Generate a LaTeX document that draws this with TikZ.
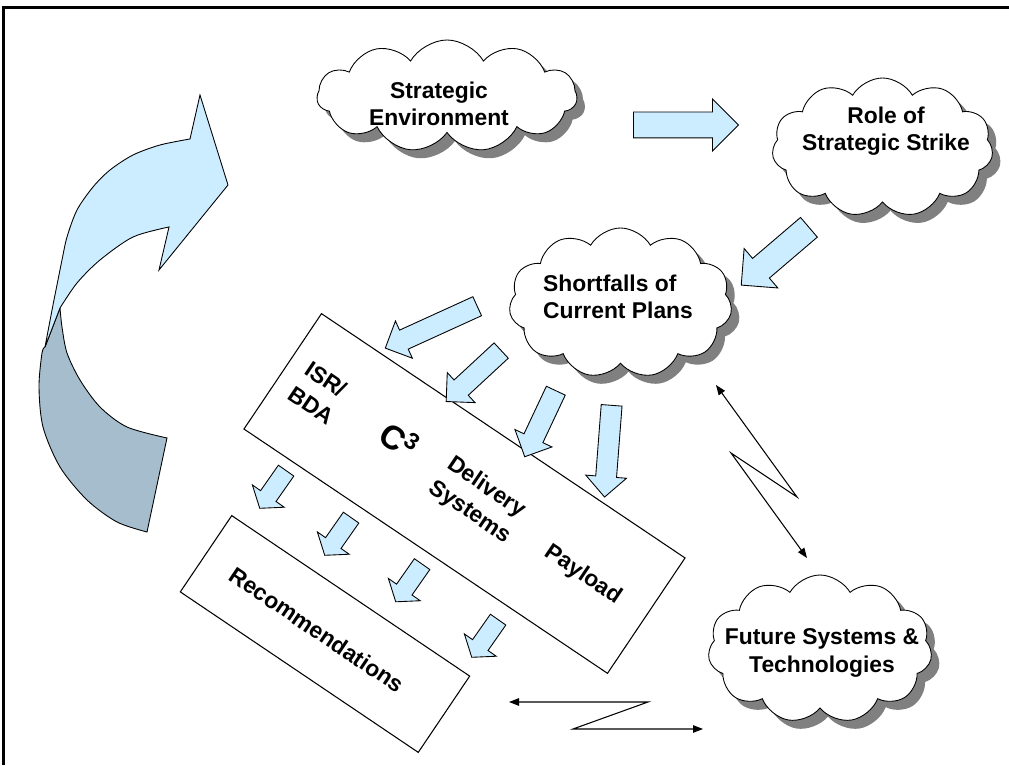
\documentclass[tikz,border=0pt]{standalone}
\usepackage{fontspec}
\setmainfont{Liberation Sans}
\usetikzlibrary{shapes.symbols,shapes.arrows,shadows,arrows.meta}
\definecolor{paleblue}{RGB}{204,236,255}
\definecolor{slateblue}{RGB}{165,189,204}
\tikzset{
  puff/.style={cloud, cloud puffs=11, cloud puff arc=120, cloud ignores aspect, draw, fill=white, line width=0.5pt, inner sep=0pt,
    drop shadow={shadow xshift=0.16cm, shadow yshift=-0.17cm, fill=black!50, opacity=1}},
  puffname/.style={font=\fontsize{13}{15.5}\selectfont\bfseries, align=center, inner sep=0pt},
  boxname/.style={font=\fontsize{13}{17}\selectfont\bfseries, rotate=-34, inner sep=0pt},
  bigarr/.style={single arrow, draw, fill=paleblue, line width=0.5pt, inner xsep=0pt, inner ysep=0.25cm, single arrow head extend=0.26cm},
  midarr/.style={bigarr, inner ysep=0.20cm, single arrow head extend=0.20cm},
  smallarr/.style={bigarr, inner ysep=0.18cm, single arrow head extend=0.20cm, single arrow tip angle=105, minimum height=0.92cm, rotate=235},
  zig/.style={line width=0.6pt, {Triangle[length=2mm,width=1.5mm]}-{Triangle[length=2mm,width=1.5mm]}}
}
\begin{document}
\begin{tikzpicture}
\useasboundingbox (0,0) rectangle (20.18,15.30);
\draw[line width=1.4pt] (0.07,0) -- (0.07,15.15) -- (20.18,15.15);

\filldraw[fill=slateblue, line width=0.5pt] plot[smooth] coordinates {(1.20,9.14) (1.24,8.76) (1.34,8.24) (1.60,7.70) (2.00,7.16) (2.54,6.76) (3.34,6.54)}
  -- (2.94,4.66) -- plot[smooth] coordinates {(2.94,4.66) (2.34,4.86) (1.74,5.30) (1.20,5.96) (0.86,6.76) (0.78,7.56) (0.84,8.24) (0.90,8.36)} -- cycle;
\filldraw[fill=paleblue, line width=0.5pt] plot[smooth] coordinates {(0.90,8.36) (1.06,9.20) (1.24,10.10) (1.34,10.56) (1.54,11.10) (1.86,11.56) (2.20,11.90) (2.66,12.20) (3.20,12.40) (3.80,12.52)}
  -- (4.00,13.40) -- (4.56,11.60) -- (3.18,9.90) -- (3.38,10.76)
  -- plot[smooth] coordinates {(3.38,10.76) (2.66,10.56) (2.00,10.10) (1.54,9.64) (1.20,9.14)} -- cycle;

\node[puff, minimum width=5.2cm, minimum height=2.24cm] (env) at (8.94,13.38) {};
\node[puff, minimum width=4.42cm, minimum height=2.78cm] (role) at (17.65,12.35) {};
\node[puff, minimum width=4.46cm, minimum height=3.0cm] (short) at (12.41,9.24) {};
\node[puff, minimum width=4.48cm, minimum height=2.96cm] (future) at (16.40,2.32) {};
\node[puffname] (envtxt) at (8.78,13.22) {Strategic\\Environment};
\node[puffname] (roletxt) at (17.72,12.68) {Role of\\Strategic Strike};
\node[puffname, align=left] (shorttxt) at (12.36,9.36) {Shortfalls of\\Current Plans};
\node[puffname] (futuretxt) at (16.44,2.24) {Future Systems \&\\Technologies};

\node[draw, line width=0.6pt, rotate=-33.9, minimum width=8.76cm, minimum height=2.78cm] (sys) at (9.29,5.43) {};
\node[draw, line width=0.6pt, rotate=-34, minimum width=5.74cm, minimum height=1.84cm] (rec) at (6.50,2.62) {};
\node[boxname, align=left] (isr) at (6.40,7.44) {ISR/\\BDA};
\node[boxname] (cthree) at (8.00,6.50) {\fontsize{19}{20}\selectfont C\textsuperscript{3}};
\node[boxname, align=center] (deliv) at (9.56,5.30) {Delivery\\Systems};
\node[boxname] (pay) at (11.66,3.80) {Payload};
\node[boxname] (rectxt) at (6.34,2.70) {Recommendations};

\node[bigarr, minimum height=2.10cm] (a0) at (13.59,12.80) {};
\node[bigarr, minimum height=1.78cm, rotate=220.5] (a1) at (15.60,10.26) {};
\node[midarr, minimum height=2.02cm, rotate=204.5] (b1) at (8.72,8.80) {};
\node[midarr, minimum height=1.50cm, rotate=222.8] (b2) at (9.55,7.85) {};
\node[midarr, minimum height=1.46cm, rotate=244.8] (b3) at (10.85,6.92) {};
\node[midarr, minimum height=1.84cm, rotate=265.6] (b4) at (12.17,6.38) {};
\foreach \p [count=\i] in {(5.50,5.57),(6.80,4.63),(8.22,3.70),(9.74,2.59)}
  \node[smallarr] (s\i) at \p {};

\coordinate (za) at (14.32,7.60);
\coordinate (zb) at (16.14,4.14);
\coordinate (zc) at (10.18,1.26);
\coordinate (zd) at (14.06,0.72);
\draw[zig] (za) -- (15.94,5.36) -- (14.62,6.24) -- (zb);
\draw[zig] (zc) -- (12.96,1.26) -- (11.46,0.72) -- (zd);
\end{tikzpicture}
\end{document}
